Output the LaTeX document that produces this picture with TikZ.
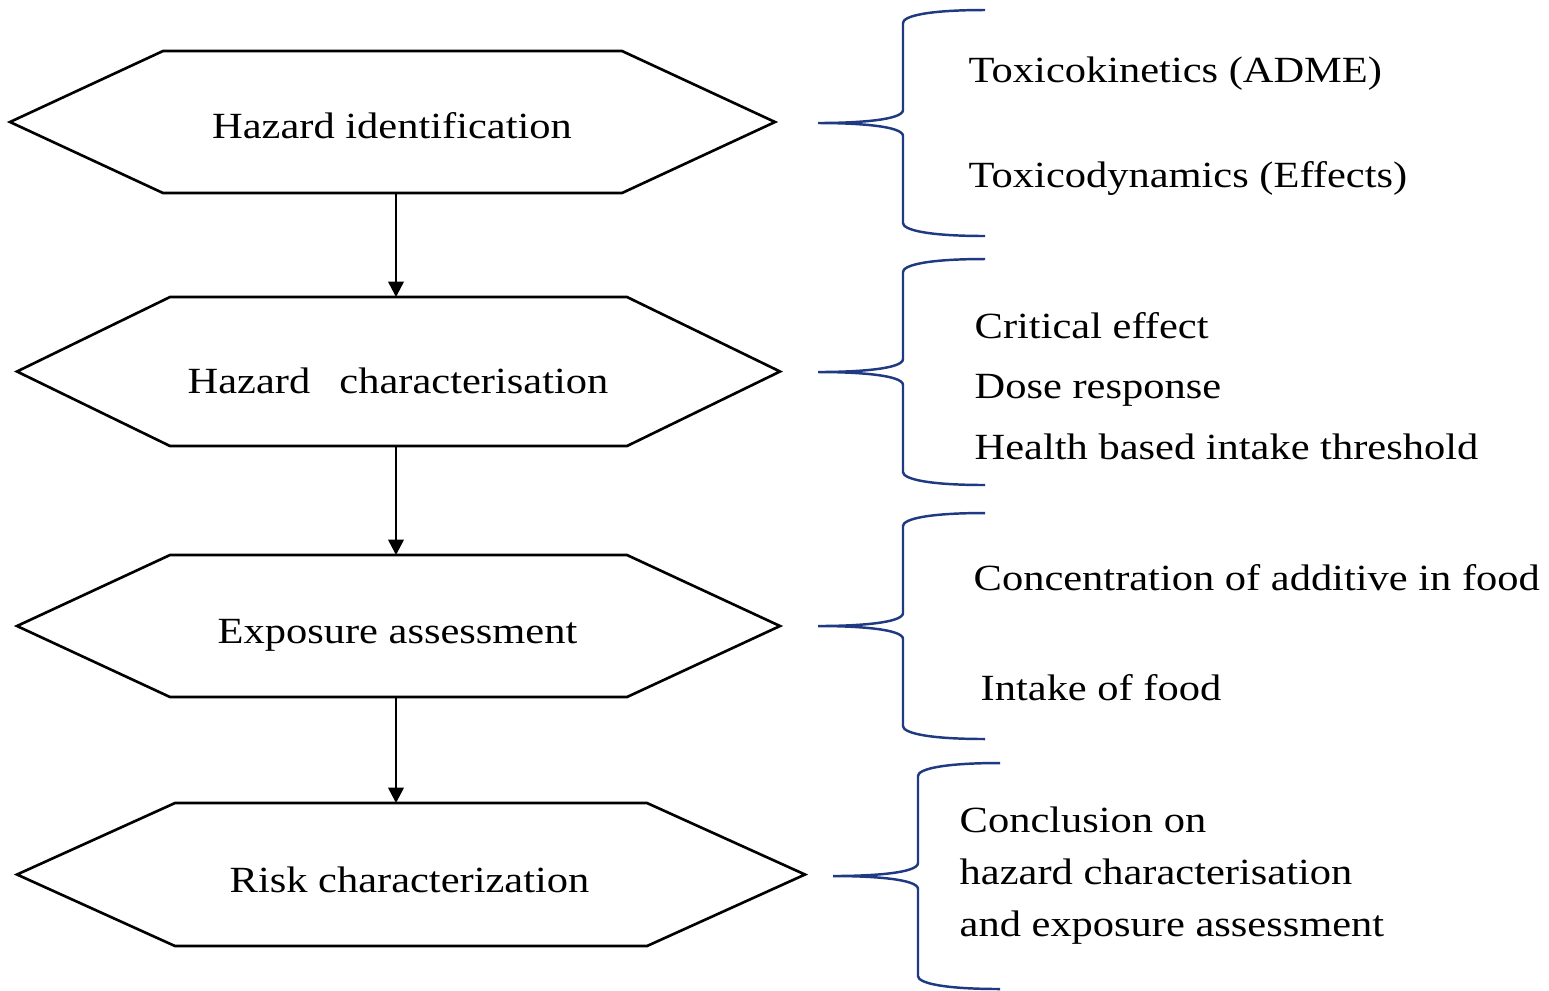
\documentclass[tikz,border=0pt]{standalone}
\usepackage{fontspec}
\setmainfont{Liberation Serif}[FakeStretch=1.15]
\usetikzlibrary{arrows.meta}
\definecolor{bracenavy}{HTML}{1F3A82}

% hexagonal stage: name, left x, right x, top y, bottom y, chamfer, label x, label, baseline y
\newcommand\stagehex[9]{%
  \draw[hexline] (#2,{(#4+#5)/2}) -- (#2+#6,#4) -- (#3-#6,#4) -- (#3,{(#4+#5)/2})
    -- (#3-#6,#5) -- (#2+#6,#5) -- cycle;
  \coordinate (#1-top) at ({(#2+#3)/2},#4);
  \coordinate (#1-bot) at ({(#2+#3)/2},#5);
  \node[stagetext] (#1) at (#7,#9) {#8};
}

% curly brace opening to the right, given by its tip
\newcommand\infobrace[2]{%
  \draw[braceline] (#1+167,#2-113) .. controls (#1+110,#2-113) and (#1+85,#2-107) .. (#1+85,#2-100)
    -- (#1+85,#2-13) .. controls (#1+85,#2-3) and (#1+40,#2) .. (#1,#2)
    .. controls (#1+40,#2) and (#1+85,#2+3) .. (#1+85,#2+13)
    -- (#1+85,#2+100) .. controls (#1+85,#2+107) and (#1+110,#2+113) .. (#1+167,#2+113);
}

\begin{document}
\begin{tikzpicture}[x=0.01cm, y=-0.01cm,
  every node/.style={font=\fontsize{10.5pt}{12.5pt}\selectfont},
  hexline/.style={draw=black, line width=0.75pt, line join=miter},
  braceline/.style={draw=bracenavy, line width=0.7pt},
  stagetext/.style={anchor=base, inner sep=0pt},
  infotext/.style={anchor=base west, inner sep=0pt},
  flow/.style={draw=black, line width=0.75pt, -{Triangle[length=4.4pt,width=4.4pt]}}]

\useasboundingbox (0,0) rectangle (1549,990);

% stages
\stagehex{hid}{10}{775}{51}{193}{153}{392}{Hazard identification}{138}
\stagehex{hch}{17}{780}{297}{446}{153}{398}{Hazard\hspace{8.3pt}characterisation}{393}
\stagehex{exa}{17}{780}{555}{697}{153}{397.5}{Exposure assessment}{643}
\stagehex{rch}{17}{805}{803}{946}{158}{409.5}{Risk characterization}{892}

% flow between stages
\coordinate (axis) at (396,0);
\draw[flow] (hid-bot -| axis) -- (hch-top -| axis);
\draw[flow] (hch-bot -| axis) -- (exa-top -| axis);
\draw[flow] (exa-bot -| axis) -- (rch-top -| axis);

% braces
\infobrace{818}{123}
\infobrace{818}{372}
\infobrace{818}{626}
\infobrace{833}{876}

% details of each stage
\node[infotext] (tk) at (968,82) {Toxicokinetics (ADME)};
\node[infotext] (td) at (968,187) {Toxicodynamics (Effects)};
\node[infotext] (ce) at (974,338) {Critical effect};
\node[infotext] (dr) at (974,398) {Dose response};
\node[infotext] (hb) at (974,459) {Health based intake threshold};
\node[infotext] (ca) at (973,590) {Concentration of additive in food};
\node[infotext] (ik) at (980,700) {Intake of food};
\node[infotext] (co1) at (959,832) {Conclusion on};
\node[infotext] (co2) at (959,884) {hazard characterisation};
\node[infotext] (co3) at (959,936) {and exposure assessment};
\end{tikzpicture}
\end{document}
